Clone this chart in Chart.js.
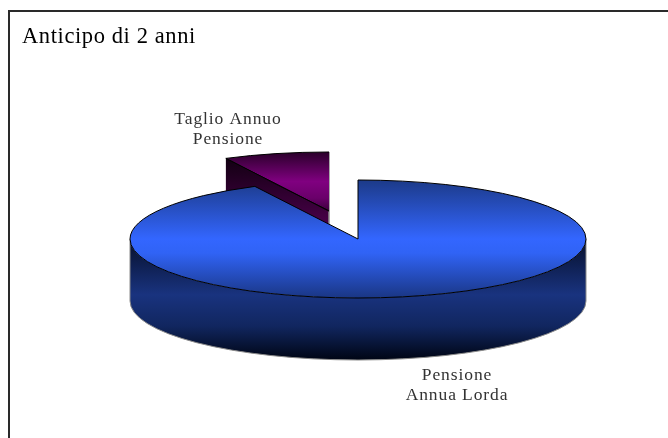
<!DOCTYPE html>
<html lang="it">
<head>
    <meta charset="UTF-8">
    <title>Anticipo di 2 anni</title>
    <script src="https://cdn.jsdelivr.net/npm/chart.js"></script>
    <style>
        body {
            margin: 0;
            background: white;
            overflow: hidden;
        }

        .frame {
            position: absolute;
            left: 8px;
            top: 10px;
            right: 0;
            bottom: 0;
            border-left: 2px solid #2a2a2a;
            border-top: 2px solid #2a2a2a;
        }

        canvas {
            position: absolute;
            left: 0;
            top: 0;
        }
    </style>
</head>
<body>
    <div class="frame"></div>
    <canvas id="pieChart" width="668" height="438"></canvas>

    <script>
        // Data
        const chartTitle = 'Anticipo di 2 anni';
        const categories = [['Taglio Annuo', 'Pensione'], ['Pensione', 'Annua Lorda']];
        const values = [7.47, 92.53];

        // Look of the fake 3D pie
        const radius = 228;
        const squash = 59 / 228;
        const depth = 62;
        const sliceShift = [[-29, -28], [0, 0]];
        const labelPos = [[228, 119], [457, 375]];
        const labelLine = 20.5;
        const labelFont = '17.5px "Liberation Serif"';

        const total = values.reduce((a, b) => a + b, 0);

        function gradient(ctx, y0, y1, stops) {
            const g = ctx.createLinearGradient(0, y0, 0, y1);
            stops.forEach(s => g.addColorStop(s[0], s[1]));
            return g;
        }

        // Top faces: gradients live in the unsquashed space the arcs are drawn in
        function topFill(context) {
            const chart = context.chart;
            if (!chart.chartArea) return '#3366ff';
            const cy = (chart.chartArea.top + chart.chartArea.bottom) / 2;
            if (context.dataIndex === 0) {
                return gradient(chart.ctx, cy - radius, cy, [
                    [0, '#2a002a'], [0.5, '#800080'], [0.78, '#6a006a'], [1, '#3c003c']
                ]);
            }
            return gradient(chart.ctx, cy - radius, cy + radius, [
                [0, '#1c3a88'], [0.5, '#3366ff'], [0.62, '#3063f5'], [1, '#1a3684']
            ]);
        }

        function squashAround(ctx, cy) {
            ctx.translate(0, cy);
            ctx.scale(1, squash);
            ctx.translate(0, -cy);
        }

        const pie3d = {
            id: 'pie3d',
            beforeDatasetDraw(chart) {
                const ctx = chart.ctx;
                const arcs = chart.getDatasetMeta(0).data;

                arcs.forEach((arc, i) => {
                    const { x, y, startAngle, endAngle, outerRadius } = arc;
                    const sy = outerRadius * squash;
                    const cx = x + sliceShift[i][0];
                    const cy = y + sliceShift[i][1];
                    const rimX = a => cx + Math.cos(a) * outerRadius;
                    const rimY = a => cy + Math.sin(a) * sy;

                    ctx.save();
                    ctx.lineWidth = 1;

                    if (i === 0) {
                        // cut face of the pulled out slice, the rest is behind the big slice
                        ctx.fillStyle = gradient(ctx, rimY(startAngle), cy + 14, [[0, '#120012'], [1, '#4a004a']]);
                        ctx.beginPath();
                        ctx.moveTo(rimX(startAngle), rimY(startAngle));
                        ctx.lineTo(cx, cy);
                        ctx.lineTo(cx, cy + depth);
                        ctx.lineTo(rimX(startAngle), rimY(startAngle) + depth);
                        ctx.closePath();
                        ctx.fill();

                        ctx.strokeStyle = '#8c8c8c';
                        ctx.lineWidth = 1.5;
                        ctx.beginPath();
                        ctx.moveTo(cx, rimY(endAngle));
                        ctx.lineTo(cx, cy + depth);
                        ctx.stroke();
                        ctx.lineWidth = 1;
                    } else {
                        // outer wall, only the front half shows
                        ctx.fillStyle = gradient(ctx, cy, cy + sy + depth, [
                            [0, '#060f2a'], [0.46, '#19337f'], [0.72, '#11265f'], [1, '#000514']
                        ]);
                        ctx.beginPath();
                        ctx.ellipse(cx, cy, outerRadius, sy, 0, 0, Math.PI);
                        ctx.ellipse(cx, cy + depth, outerRadius, sy, 0, Math.PI, 0, true);
                        ctx.closePath();
                        ctx.fill();

                        ctx.strokeStyle = '#8a8a8a';
                        ctx.beginPath();
                        ctx.moveTo(cx + outerRadius, cy);
                        ctx.ellipse(cx, cy + depth, outerRadius, sy, 0, 0, Math.PI);
                        ctx.lineTo(cx - outerRadius, cy);
                        ctx.stroke();
                    }

                    // top face through the library's arc
                    ctx.save();
                    ctx.translate(sliceShift[i][0], sliceShift[i][1]);
                    squashAround(ctx, y);
                    arc.draw(ctx);
                    ctx.restore();

                    // outline at a constant width
                    ctx.strokeStyle = '#000';
                    ctx.beginPath();
                    ctx.moveTo(cx, cy);
                    ctx.ellipse(cx, cy, outerRadius, sy, 0, startAngle, endAngle);
                    if (i === 0) {
                        ctx.stroke();
                        ctx.beginPath();
                        ctx.moveTo(rimX(startAngle), rimY(startAngle));
                        ctx.lineTo(cx, cy);
                    } else {
                        ctx.closePath();
                    }
                    ctx.stroke();
                    ctx.restore();
                });
                return false;
            },
            afterDatasetsDraw(chart) {
                const ctx = chart.ctx;
                ctx.save();
                ctx.font = labelFont;
                ctx.fillStyle = '#333';
                ctx.textAlign = 'center';
                ctx.textBaseline = 'middle';
                ctx.letterSpacing = '0.9px';
                categories.forEach((lines, i) => {
                    lines.forEach((line, j) => {
                        ctx.fillText(line, labelPos[i][0], labelPos[i][1] + j * labelLine);
                    });
                });
                ctx.restore();
            },
            afterLayout(chart) {
                // title sits left of the padding that centres the pie
                chart.titleBlock.left = 22;
            },
            beforeDraw(chart) {
                chart.ctx.letterSpacing = '0.6px';
            }
        };

        new Chart(document.getElementById('pieChart').getContext('2d'), {
            type: 'pie',
            data: {
                labels: categories.map(c => c.join(' ')),
                datasets: [{
                    data: values,
                    backgroundColor: topFill,
                    borderWidth: 0
                }]
            },
            options: {
                responsive: false,
                animation: false,
                radius: radius,
                rotation: -360 * values[0] / total,
                layout: { padding: { left: 48, bottom: 11 } },
                plugins: {
                    legend: { display: false },
                    tooltip: { enabled: false },
                    title: {
                        display: true,
                        text: chartTitle,
                        align: 'start',
                        color: '#000',
                        font: { family: '"Liberation Serif"', size: 22.5, weight: 'normal' },
                        padding: { top: 24, bottom: 0 }
                    }
                }
            },
            plugins: [pie3d]
        });
    </script>
</body>
</html>
